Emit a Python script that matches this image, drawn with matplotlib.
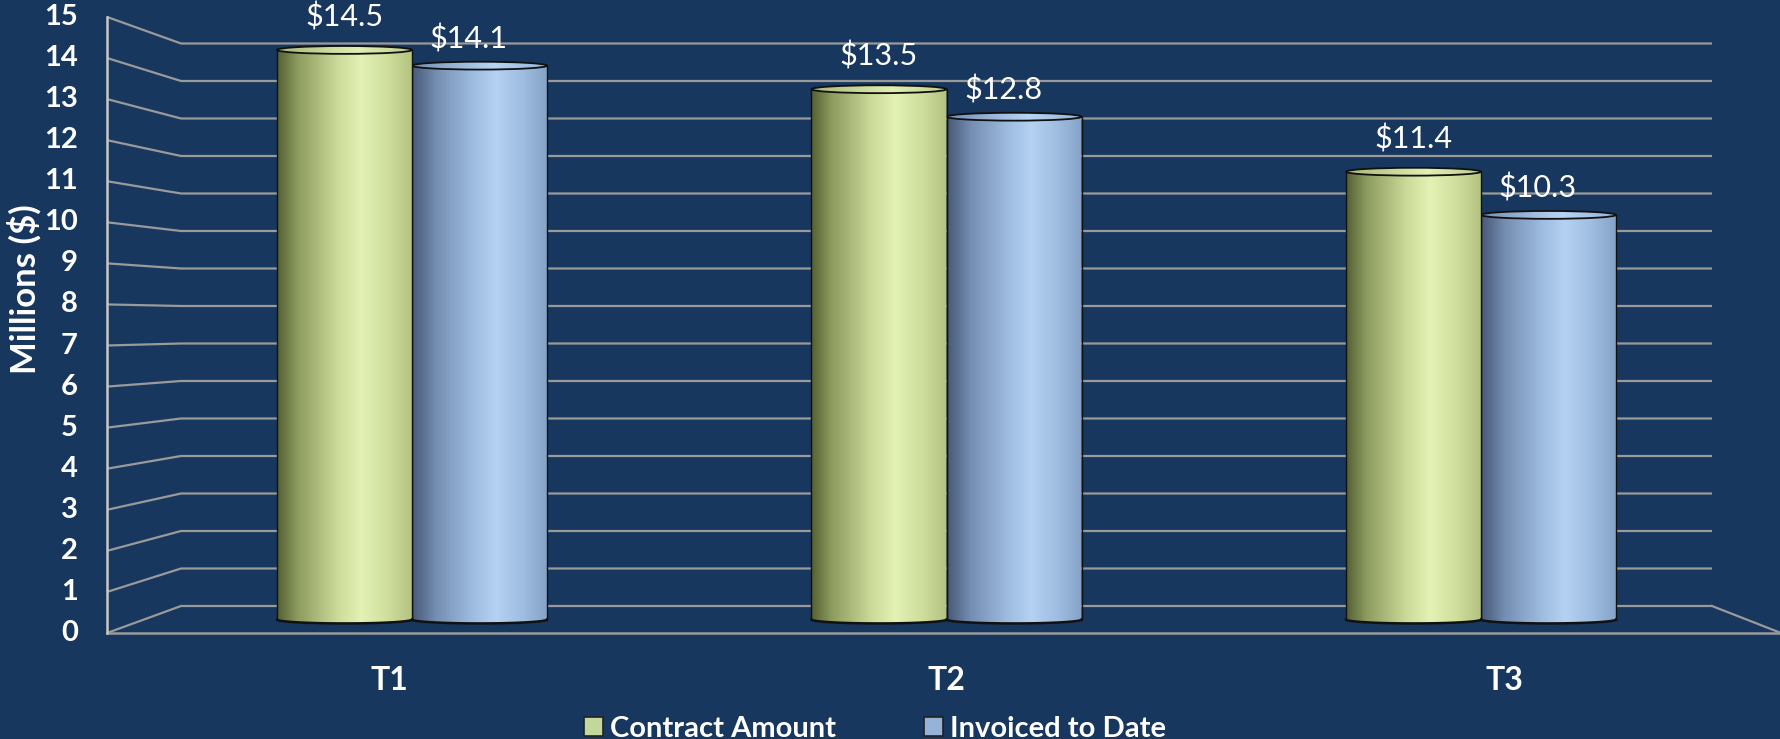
import numpy as np
import matplotlib
matplotlib.use("Agg")
import matplotlib.pyplot as plt
from matplotlib.colors import LinearSegmentedColormap
from matplotlib.patches import Polygon, Ellipse, Patch

plt.rcParams['font.family'] = ['Lato', 'DejaVu Sans']

# data
categories = ["T1", "T2", "T3"]
series_names = ["Contract Amount", "Invoiced to Date"]
contract = [14.5, 13.5, 11.4]
invoiced = [14.1, 12.8, 10.3]
y_ticks = list(range(0, 16))

BG = "#17375E"
GRID = "#9A9A9A"

W, H = 1781, 739
fig = plt.figure(figsize=(W / 100, H / 100), dpi=100, facecolor=BG)
ax = fig.add_axes([0, 0, 1, 1])
ax.set_facecolor(BG)
ax.axis("off")

# pixel layout of the pseudo-3d chart (bars sit on the middle plane)
X0, DX = 412.0, 534.5        # pixel x of category 0 centre, spacing
Y0, DY = 619.5, 39.28        # pixel y of value 0, pixels per unit


def px(p):
    return (p - X0) / DX


def py(p):
    return (Y0 - p) / DY


# front / back wall planes in mid-plane value units
def front(v):
    return -0.3437 + 1.0456 * v


def back(v):
    return 0.3437 + 0.9547 * v


xf, xb, xr = px(107), px(181), px(1712)
for v in y_ticks:
    ax.plot([xf, xb, xr], [front(v), back(v), back(v)], color=GRID, lw=1.6, zorder=1,
            solid_capstyle="butt")
ax.plot([xf, xf], [front(0), front(15)], color="#C8C8C8", lw=1.8, zorder=2)
ax.plot([xf, px(W)], [front(0), front(0)], color=GRID, lw=1.8, zorder=1)
ax.plot([xr, px(W)], [back(0), front(0)], color=GRID, lw=1.6, zorder=1)

for v in y_ticks:
    ax.text(px(78), front(v), str(v), color="white", fontsize=21, fontweight="bold",
            ha="right", va="center")

ax.text(px(24), py(289), "Millions ($)", color="white", fontsize=25, fontweight="bold",
        rotation=90, ha="center", va="center")

for i, c in enumerate(categories):
    ax.text(1 + (i - 1) * 1.043, py(681), c, color="white", fontsize=23,
            fontweight="bold", ha="center", va="center")

# cylinder shading
green_body = LinearSegmentedColormap.from_list("gb", [
    (0.0, (0.33, 0.37, 0.20)), (0.15, (0.55, 0.61, 0.37)), (0.45, (0.80, 0.86, 0.60)),
    (0.62, (0.89, 0.95, 0.71)), (0.82, (0.81, 0.87, 0.61)), (1.0, (0.70, 0.76, 0.50))])
blue_body = LinearSegmentedColormap.from_list("bb", [
    (0.0, (0.28, 0.35, 0.47)), (0.18, (0.46, 0.56, 0.70)), (0.45, (0.62, 0.74, 0.88)),
    (0.62, (0.71, 0.82, 0.95)), (0.82, (0.62, 0.74, 0.88)), (1.0, (0.52, 0.63, 0.78))])
green_top = LinearSegmentedColormap.from_list("gt", [
    (0.0, (0.66, 0.72, 0.46)), (0.6, (0.88, 0.94, 0.70)), (1.0, (0.74, 0.81, 0.54))])
blue_top = LinearSegmentedColormap.from_list("bt", [
    (0.0, (0.46, 0.56, 0.71)), (0.6, (0.72, 0.83, 0.95)), (1.0, (0.58, 0.70, 0.85))])

bw = 0.2526
eh = 0.1
grad = np.linspace(0, 1, 256).reshape(1, -1)


def cylinder(x0, v, body, top, z):
    x1 = x0 + bw
    t = np.linspace(np.pi, 2 * np.pi, 60)
    cx, rx = x0 + bw / 2, bw / 2
    bot = np.column_stack([cx + rx * np.cos(t), eh * np.sin(t)])
    pts = np.vstack([[[x0, v]], bot, [[x1, v]]])
    poly = Polygon(pts, closed=True, facecolor="none", edgecolor="none", zorder=z)
    ax.add_patch(poly)
    im = ax.imshow(grad, cmap=body, aspect="auto", extent=(x0, x1, -eh, v), zorder=z)
    im.set_clip_path(poly)
    ax.plot([x0, x0], [v, 0], color="#111111", lw=1.0, zorder=z + 0.1)
    ax.plot([x1, x1], [v, 0], color="#111111", lw=1.0, zorder=z + 0.1)
    ax.plot(bot[:, 0], bot[:, 1], color="#111111", lw=1.8, zorder=z + 0.1)
    cap = Ellipse((cx, v), bw, 2 * eh, facecolor="none", edgecolor="none", zorder=z + 0.2)
    ax.add_patch(cap)
    im2 = ax.imshow(grad, cmap=top, aspect="auto", extent=(x0, x1, v - eh, v + eh),
                    zorder=z + 0.2)
    im2.set_clip_path(cap)
    ax.add_patch(Ellipse((cx, v), bw, 2 * eh, facecolor="none", edgecolor="#111111",
                         lw=1.3, zorder=z + 0.3))


for i in range(len(categories)):
    cylinder(i, invoiced[i], blue_body, blue_top, 3)
    cylinder(i - bw, contract[i], green_body, green_top, 4)
    ax.text(i - bw / 2, contract[i] + 0.84, f"${contract[i]}", color="white",
            fontsize=22, ha="center", va="center", zorder=6)
    ax.text(i + bw / 2 - 0.02, invoiced[i] + 0.68, f"${invoiced[i]}", color="white",
            fontsize=22, ha="center", va="center", zorder=6)

ax.set_xlim(px(0), px(W))
ax.set_ylim(py(H), py(0))

handles = [Patch(facecolor="#C3D69B", edgecolor="#222222", lw=1.2),
           Patch(facecolor="#95B3D7", edgecolor="#222222", lw=1.2)]
leg = fig.legend(handles, series_names, loc="center", bbox_to_anchor=(875 / W, 1 - 729 / H),
                 ncol=2, frameon=False, fontsize=21, handlelength=0.65, handleheight=0.65,
                 handletextpad=0.25, columnspacing=3.0, borderpad=0)
for t in leg.get_texts():
    t.set_color("white")
    t.set_fontweight("bold")

fig.savefig("out.png", dpi=100, facecolor=BG)
